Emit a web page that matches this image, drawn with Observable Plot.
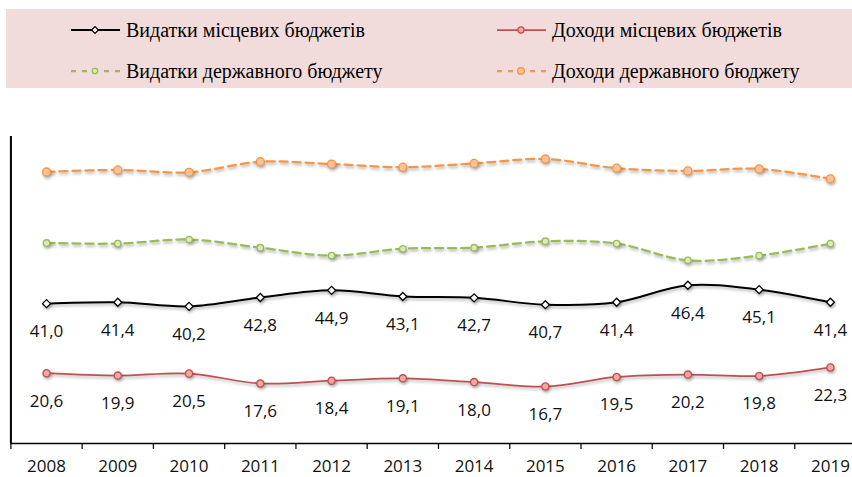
<!DOCTYPE html>
<html>
<head>
<meta charset="utf-8">
<script src="https://cdn.jsdelivr.net/npm/d3@7"></script>
<script src="https://cdn.jsdelivr.net/npm/@observablehq/plot@0.6"></script>
<style>
  html, body { margin: 0; padding: 0; background: #fff; overflow: hidden; }
  #legend { position: relative; width: 852px; height: 100px; }
  #legendBox { position: absolute; left: 6px; top: 9px; width: 846px; height: 79px; background: #f2dcdb; }
  .item { position: absolute; display: flex; align-items: center; font-family: "Liberation Serif", "DejaVu Serif", serif; font-size: 20px; color: #000; white-space: nowrap; }
  .item svg { margin-right: 6px; flex: none; }
  #chart svg g[aria-label="line"], #chart svg g[aria-label="dot"] { filter: drop-shadow(1px 2px 1.5px rgba(0,0,0,0.3)); }
</style>
</head>
<body>
<div id="legend"><div id="legendBox"></div></div>
<div id="chart"></div>
<script>
const years = [2008, 2009, 2010, 2011, 2012, 2013, 2014, 2015, 2016, 2017, 2018, 2019];
const localExp = [41.0, 41.4, 40.2, 42.8, 44.9, 43.1, 42.7, 40.7, 41.4, 46.4, 45.1, 41.4];
const localRev = [20.6, 19.9, 20.5, 17.6, 18.4, 19.1, 18.0, 16.7, 19.5, 20.2, 19.8, 22.3];
const stateExp = [58.8, 58.6, 59.8, 57.4, 55.1, 57.1, 57.4, 59.3, 58.6, 53.7, 55.1, 58.6];
const stateRev = [79.6, 80.2, 79.5, 82.6, 81.9, 81.0, 82.1, 83.4, 80.7, 79.9, 80.5, 77.6];
const seriesNames = ["Видатки місцевих бюджетів", "Доходи місцевих бюджетів", "Видатки державного бюджету", "Доходи державного бюджету"];

const styles = [
  {stroke: "#000000", width: 2, dash: null, symbol: "diamond2", r: 3.6, fill: "#ffffff", mstroke: "#000000", labels: true},
  {stroke: "#c0504d", width: 1.75, dash: null, symbol: "circle", r: 3.6, fill: "#f4a7a5", mstroke: "#c0504d", labels: true},
  {stroke: "#9bbb59", width: 2.25, dash: "8,5", symbol: "circle", r: 3.2, fill: "#dbeab8", mstroke: "#9bbb59", labels: false},
  {stroke: "#f79646", width: 2.25, dash: "8,5", symbol: "circle", r: 4, fill: "#fbc395", mstroke: "#f79646", labels: false}
];
const values = [localExp, localRev, stateExp, stateRev];

// legend
const legend = document.getElementById("legend");
const legendPos = [[71, 30], [497, 30], [71, 71], [497, 71]];
seriesNames.forEach((name, i) => {
  const s = styles[i];
  const div = document.createElement("div");
  div.className = "item";
  div.style.left = legendPos[i][0] + "px";
  div.style.top = (legendPos[i][1] - 12) + "px";
  div.style.height = "24px";
  let marker;
  if (s.symbol === "diamond2") marker = `<path d="M24,${12-3.4}L${24+3.4},12L24,${12+3.4}L${24-3.4},12Z" fill="${s.fill}" stroke="${s.mstroke}" stroke-width="1.3"/>`;
  else marker = `<circle cx="24" cy="12" r="${s.r * 0.85}" fill="${s.fill}" stroke="${s.mstroke}" stroke-width="1.3"/>`;
  div.innerHTML = `<svg width="49" height="24"><line x1="0" x2="49" y1="12" y2="12" stroke="${s.stroke}" stroke-width="${s.width}" ${s.dash ? `stroke-dasharray="5,6"` : ""}/>${marker}</svg><span>${name}</span>`;
  legend.appendChild(div);
});

const data = [];
values.forEach((arr, si) => arr.forEach((v, i) => data.push({series: si, year: years[i], value: v})));
const boundaries = years.map(y => y - 0.5);
const fmt = v => v.toFixed(1).replace(".", ",");

const marks = [];
styles.forEach((s, si) => {
  const d = data.filter(e => e.series === si);
  marks.push(Plot.line(d, {x: "year", y: "value", stroke: s.stroke, strokeWidth: s.width, strokeDasharray: s.dash, curve: "catmull-rom"}));
});
styles.forEach((s, si) => {
  const d = data.filter(e => e.series === si);
  marks.push(Plot.dot(d, {x: "year", y: "value", symbol: () => s.symbol, r: s.r, fill: s.fill, stroke: s.mstroke, strokeWidth: 1.3}));
  if (s.labels) marks.push(Plot.text(d, {x: "year", y: "value", text: e => fmt(e.value), dy: 28, fontSize: 17, fill: "#111"}));
});

const plot = Plot.plot({
  width: 852,
  height: 377,
  marginTop: 36,
  marginBottom: 34,
  marginLeft: 10.4,
  marginRight: 0,
  style: {fontFamily: "'Open Sans', sans-serif", fontSize: "17px", color: "#111", background: "transparent", overflow: "visible"},
  symbol: {type: "identity"},
  x: {domain: [2007.5, 2019.31], axis: null, label: null},
  y: {domain: [0, 90], axis: null, label: null},
  marks: [
    Plot.axisX(years, {tickSize: 0, tickPadding: 16, tickFormat: d => String(d), fontSize: 17, label: null}),
    Plot.axisX(boundaries, {tickSize: 6, tickFormat: () => "", strokeWidth: 1.3, label: null}),
    Plot.ruleY([0], {stroke: "#000", strokeWidth: 1.5}),
    Plot.ruleX([2007.5], {y1: 0, y2: 90, stroke: "#000", strokeWidth: 2}),
    ...marks
  ]
});
document.getElementById("chart").appendChild(plot);
</script>
</body>
</html>
